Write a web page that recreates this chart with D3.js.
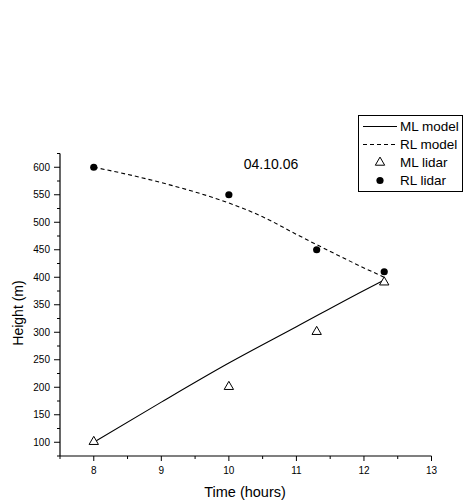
<!DOCTYPE html>
<html>
<head>
<meta charset="utf-8">
<script src="https://cdn.jsdelivr.net/npm/d3@7"></script>
<style>
  body { margin: 0; background: #fff; }
  text { font-family: Arial, "Liberation Sans", sans-serif; }
</style>
</head>
<body>
<svg width="464" height="502"></svg>
<script>
// lidar observations
var mlLidarTime = [8, 10, 11.3, 12.3];
var mlLidarHeight = [100, 200, 300, 390];
var rlLidarTime = [8, 10, 11.3, 12.3];
var rlLidarHeight = [600, 550, 450, 410];

// model curves
var mlModelTime = [8, 9, 10, 11, 12, 12.3];
var mlModelHeight = [100, 173, 244, 310, 376, 395];
var rlModelTime = [8, 8.5, 9, 9.5, 10, 10.5, 11, 11.5, 12, 12.3];
var rlModelHeight = [600, 587, 572, 555, 535, 510, 478, 447, 417, 400];

var xTicks = [8, 9, 10, 11, 12, 13];
var yTicks = [100, 150, 200, 250, 300, 350, 400, 450, 500, 550, 600];

var svg = d3.select("svg");

var x = d3.scaleLinear().domain([7.5, 13]).range([60, 431.5]);
var y = d3.scaleLinear().domain([75, 625]).range([456, 153.5]);

function pts(xs, ys) { return xs.map(function(d, i) { return [d, ys[i]]; }); }

// x axis
var xAxis = svg.append("g").attr("transform", "translate(0,456)");
xAxis.append("line").attr("x1", 60).attr("x2", 431.5).attr("stroke", "#000").attr("stroke-width", 1.2);
xAxis.selectAll("line.minor")
    .data(d3.range(7.5, 13.01, 0.5))
    .enter().append("line")
    .attr("x1", function(d) { return x(d); })
    .attr("x2", function(d) { return x(d); })
    .attr("y1", 0)
    .attr("y2", function(d) { return d % 1 === 0 ? 5 : 3; })
    .attr("stroke", "#000");
xAxis.selectAll("text")
    .data(xTicks)
    .enter().append("text")
    .attr("x", function(d) { return x(d); })
    .attr("y", 18)
    .attr("text-anchor", "middle")
    .style("font-size", "10px")
    .text(function(d) { return d; });

// y axis
var yAxis = svg.append("g").attr("transform", "translate(60,0)");
yAxis.append("line").attr("y1", y(75)).attr("y2", y(625)).attr("stroke", "#000").attr("stroke-width", 1.2);
yAxis.selectAll("line.minor")
    .data(d3.range(75, 626, 25))
    .enter().append("line")
    .attr("y1", function(d) { return y(d); })
    .attr("y2", function(d) { return y(d); })
    .attr("x1", 0)
    .attr("x2", function(d) { return d % 50 === 0 ? -6 : -3; })
    .attr("stroke", "#000");
yAxis.selectAll("text")
    .data(yTicks)
    .enter().append("text")
    .attr("x", -10)
    .attr("y", function(d) { return y(d) + 3.5; })
    .attr("text-anchor", "end")
    .style("font-size", "10px")
    .text(function(d) { return d; });

// axis titles
svg.append("text")
    .attr("x", 245).attr("y", 497)
    .attr("text-anchor", "middle")
    .style("font-size", "14.5px")
    .text("Time (hours)");
svg.append("text")
    .attr("transform", "translate(23,313) rotate(-90)")
    .attr("text-anchor", "middle")
    .style("font-size", "14px")
    .text("Height (m)");

// title
svg.append("text")
    .attr("x", 271).attr("y", 169)
    .attr("text-anchor", "middle")
    .style("font-size", "14px")
    .text("04.10.06");

var line = d3.line()
    .x(function(d) { return x(d[0]); })
    .y(function(d) { return y(d[1]); })
    .curve(d3.curveMonotoneX);

svg.append("path")
    .attr("d", line(pts(mlModelTime, mlModelHeight)))
    .attr("fill", "none").attr("stroke", "#000").attr("stroke-width", 1.1);
svg.append("path")
    .attr("d", line(pts(rlModelTime, rlModelHeight)))
    .attr("fill", "none").attr("stroke", "#000").attr("stroke-width", 1.1)
    .attr("stroke-dasharray", "4,3");

var tri = d3.symbol().type(d3.symbolTriangle).size(38);

svg.selectAll("path.ml")
    .data(pts(mlLidarTime, mlLidarHeight))
    .enter().append("path")
    .attr("class", "ml")
    .attr("d", tri)
    .attr("transform", function(d) { return "translate(" + x(d[0]) + "," + (y(d[1]) - 0.5) + ")"; })
    .attr("fill", "#fff").attr("stroke", "#000").attr("stroke-width", 1);

svg.selectAll("circle.rl")
    .data(pts(rlLidarTime, rlLidarHeight))
    .enter().append("circle")
    .attr("class", "rl")
    .attr("cx", function(d) { return x(d[0]); })
    .attr("cy", function(d) { return y(d[1]); })
    .attr("r", 3.6)
    .attr("fill", "#000");

// legend
var lg = svg.append("g");
lg.append("rect")
    .attr("x", 358.5).attr("y", 115.5).attr("width", 104).attr("height", 76)
    .attr("fill", "#fff").attr("stroke", "#000");
var rows = ["ML model", "RL model", "ML lidar", "RL lidar"];
var legG = lg.selectAll("g.row")
    .data(rows)
    .enter().append("g")
    .attr("transform", function(d, i) { return "translate(0," + (126.5 + i * 18) + ")"; });
legG.append("text")
    .attr("x", 400).attr("y", 4.5)
    .style("font-size", "13.5px")
    .text(function(d) { return d; });
legG.filter(function(d, i) { return i < 2; })
    .append("line")
    .attr("x1", 363).attr("x2", 397)
    .attr("stroke", "#000").attr("stroke-width", 1.1)
    .attr("stroke-dasharray", function(d, i) { return i === 1 ? "4,3" : null; });
legG.filter(function(d, i) { return i === 2; })
    .append("path")
    .attr("d", tri)
    .attr("transform", "translate(380,0)")
    .attr("fill", "#fff").attr("stroke", "#000");
legG.filter(function(d, i) { return i === 3; })
    .append("circle")
    .attr("cx", 380).attr("r", 3.6).attr("fill", "#000");
</script>
</body>
</html>
